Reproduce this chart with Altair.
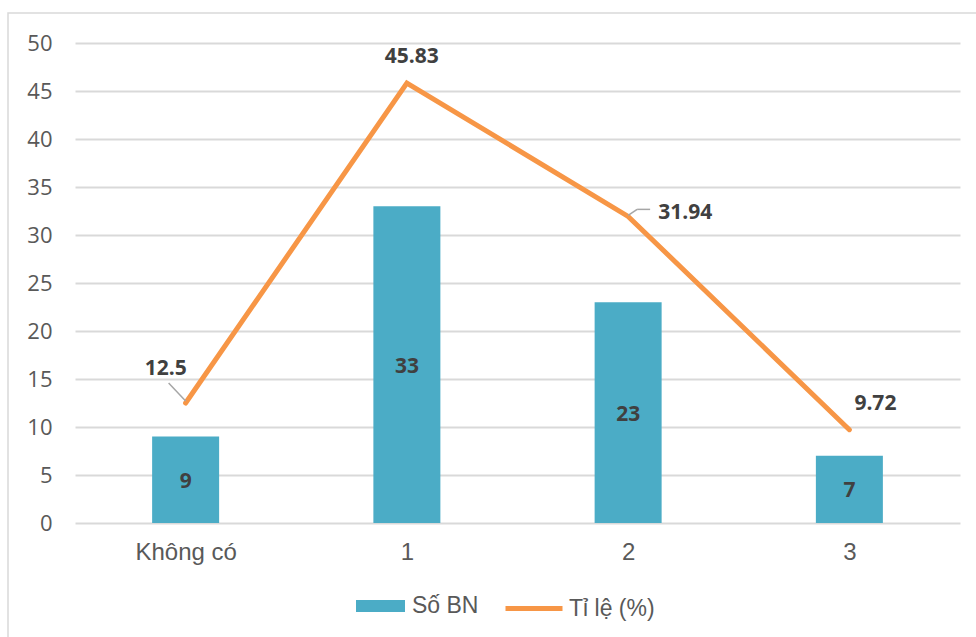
import json
import altair as alt
import pandas as pd

categories = ["Không có", "1", "2", "3"]
counts = [9, 33, 23, 7]
percents = [12.5, 45.83, 31.94, 9.72]
series_bar = "Số BN"
series_line = "Tỉ lệ (%)"

df = pd.DataFrame({
    "idx": list(range(len(categories))),
    "cat": categories,
    "count": counts,
    "pct": percents,
})

AX_COLOR = "#595959"
GRID = "#D9D9D9"
LABEL = "#404040"

x_enc = alt.X(
    "idx:Q",
    scale=alt.Scale(domain=[-0.5, len(categories) - 0.5], nice=False, zero=False, padding=0),
    axis=alt.Axis(
        values=list(range(len(categories))),
        labelExpr=f"{json.dumps(categories, ensure_ascii=False)}[datum.value]",
        title=None, grid=False, ticks=False, domain=False,
        labelFont="Liberation Sans", labelFontSize=24, labelColor=AX_COLOR,
        labelPadding=17, labelBaseline="top",
    ),
)
y_scale = alt.Scale(domain=[0, 50], nice=False)
y_axis = alt.Axis(
    values=list(range(0, 55, 5)), title=None, ticks=False, domain=False,
    grid=True, gridColor=GRID, gridWidth=2,
    labelFont="Open Sans", labelFontSize=22, labelColor=AX_COLOR, labelPadding=23,
)

base = alt.Chart(df)

frame = alt.Chart(pd.DataFrame({"d": [0]})).mark_rect(
    fill="transparent", stroke=GRID, strokeWidth=1.5
).encode(x=alt.value(-67), y=alt.value(-30), x2=alt.value(930), y2=alt.value(620))

bars = base.transform_calculate(s1=f"'{series_bar}'").mark_bar(size=67).encode(
    x=x_enc,
    y=alt.Y("count:Q", scale=y_scale, axis=y_axis),
    fill=alt.Fill(
        "s1:N",
        scale=alt.Scale(domain=[series_bar], range=["#4BACC6"]),
        legend=alt.Legend(
            orient="none", legendX=281, legendY=538.5, title=None, padding=0,
            symbolType="M-1,-0.245H1V0.245H-1Z", symbolSize=2401, symbolStrokeWidth=0,
            labelFont="Liberation Sans", labelFontSize=23, labelColor=AX_COLOR,
            labelOffset=7,
        ),
    ),
)

bar_text = base.transform_calculate(half="datum.count / 2").mark_text(
    font="Open Sans", fontWeight="bold", fontSize=21, color=LABEL, baseline="middle", dy=2
).encode(
    x=x_enc,
    y=alt.Y("half:Q", scale=y_scale, axis=y_axis),
    text=alt.Text("count:N"),
)

line = base.transform_calculate(s2=f"'{series_line}'").mark_line(
    strokeWidth=5, strokeCap="round"
).encode(
    x=x_enc,
    y=alt.Y("pct:Q", scale=y_scale, axis=y_axis),
    stroke=alt.Stroke(
        "s2:N",
        scale=alt.Scale(domain=[series_line], range=["#F79646"]),
        legend=alt.Legend(
            orient="none", legendX=428, legendY=534.5, title=None, padding=0,
            symbolType="stroke", symbolSize=3249, symbolStrokeWidth=5,
            labelFont="Liberation Sans", labelFontSize=23, labelColor=AX_COLOR,
            labelOffset=4,
        ),
    ),
)


def pct_label(i, dx, dy, align="center"):
    return base.transform_filter(alt.datum.idx == i).mark_text(
        dx=dx, dy=dy, align=align, baseline="middle",
        font="Open Sans", fontWeight="bold", fontSize=21, color=LABEL,
    ).encode(
        x=x_enc,
        y=alt.Y("pct:Q", scale=y_scale, axis=y_axis),
        text=alt.Text("pct:N"),
    )


def leader(i, xo, yo, x2o, y2o):
    return base.transform_filter(alt.datum.idx == i).mark_rule(
        xOffset=xo, yOffset=yo, x2Offset=x2o, y2Offset=y2o,
        color="#A6A6A6", strokeWidth=1.5,
    ).encode(
        x=x_enc, x2=alt.X2("idx:Q"),
        y=alt.Y("pct:Q", scale=y_scale, axis=y_axis), y2=alt.Y2("pct:Q"),
    )


chart = alt.layer(
    frame, bars, bar_text, line,
    leader(0, 0, -2, -17, -20),
    leader(2, 0, -1, 9, -7),
    leader(2, 9, -7, 22, -7),
    pct_label(0, -20, -34),
    pct_label(1, 5, -26),
    pct_label(2, 30, -3, "left"),
    pct_label(3, 26, -26),
).properties(
    width=885, height=480,
    autosize=alt.AutoSizeParams(type="none"),
    padding={"left": 75, "top": 43, "right": 16, "bottom": 114},
    background="white",
).configure_view(stroke=None)

chart.save("out.html", embed_options={"renderer": "svg", "actions": False})
